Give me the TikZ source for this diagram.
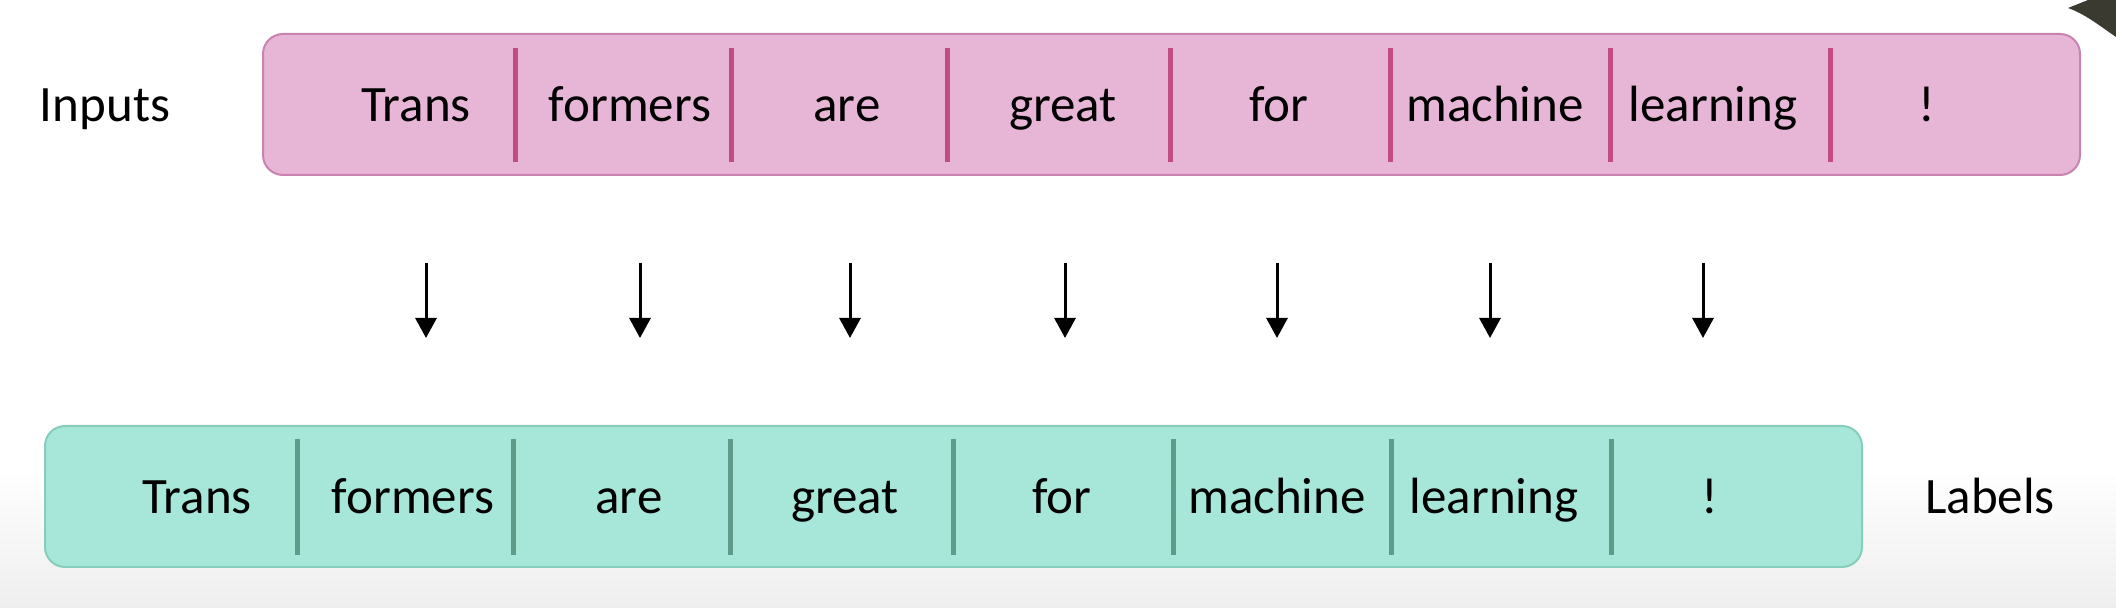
\documentclass[tikz,border=0pt]{standalone}
\usepackage{fontspec}
\setmainfont{Carlito}
\usetikzlibrary{arrows.meta}
\definecolor{pinkfill}{HTML}{E7B6D6}
\definecolor{pinkedge}{HTML}{C983AE}
\definecolor{pinkdiv}{HTML}{C24B82}
\definecolor{tealfill}{HTML}{A6E7D9}
\definecolor{tealedge}{HTML}{86CDBB}
\definecolor{tealdiv}{HTML}{5E9C89}
\definecolor{bggray}{HTML}{EEEEEE}
\definecolor{cornerdark}{HTML}{3B3A31}
\tikzset{
  px/.style={x=0.5pt,y=-0.5pt},
  word/.style={font=\fontsize{25.5}{30}\selectfont, text=black, inner sep=0pt, anchor=base},
  sidelabel/.style={font=\fontsize{25.5}{30}\selectfont, text=black, inner sep=0pt, anchor=base},
  inbox/.style={draw=pinkedge, fill=pinkfill, line width=1pt, rounded corners=10pt},
  labbox/.style={draw=tealedge, fill=tealfill, line width=1pt, rounded corners=10pt},
  indiv/.style={draw=pinkdiv, line width=2.5pt},
  labdiv/.style={draw=tealdiv, line width=2.5pt},
  downarrow/.style={line width=1.5pt, -{Triangle[width=10.5pt,length=10pt]}}
}
\begin{document}
\begin{tikzpicture}[px]
\useasboundingbox (0,0) rectangle (2116,608);
% background
\fill[white] (0,0) rectangle (2116,608);
\shade[top color=white, bottom color=bggray] (0,470) rectangle (2116,608);
% dark corner shape
\fill[cornerdark] (2068,8) -- (2088,0) -- (2116,0) -- (2116,37) .. controls (2100,26) and (2085,14) .. cycle;

% Inputs box
\draw[inbox] (263,34) rectangle (2080,175);
\node[sidelabel] (inlab) at (105,122) {Inputs};
\foreach \x in {515,731,947,1170,1390,1610,1830}
  \draw[indiv] (\x,48) -- (\x,162);
\node[word] (i1) at (416,122) {Trans};
\node[word] (i2) at (630,122) {formers};
\node[word] (i3) at (847,122) {are};
\node[word] (i4) at (1063,122) {great};
\node[word] (i5) at (1279,122) {for};
\node[word] (i6) at (1495,122) {machine};
\node[word] (i7) at (1713,122) {learning};
\node[word] (i8) at (1927,122) {!};

% arrows
\foreach \n/\x in {1/426,2/640,3/850,4/1065,5/1277,6/1490,7/1703}{
  \coordinate (a\n) at (\x,263);
  \coordinate (b\n) at (\x,338);
  \draw[downarrow] (a\n) -- (b\n);
}

% Labels box
\draw[labbox] (45,426) rectangle (1862,567);
\foreach \x in {297,513,730,953,1173,1391,1611}
  \draw[labdiv] (\x,439) -- (\x,555);
\node[word] (l1) at (197,514) {Trans};
\node[word] (l2) at (413,514) {formers};
\node[word] (l3) at (629,514) {are};
\node[word] (l4) at (845,514) {great};
\node[word] (l5) at (1062,514) {for};
\node[word] (l6) at (1277,514) {machine};
\node[word] (l7) at (1494,514) {learning};
\node[word] (l8) at (1710,514) {!};
\node[sidelabel] (lablab) at (1990,514) {Labels};
\end{tikzpicture}
\end{document}
